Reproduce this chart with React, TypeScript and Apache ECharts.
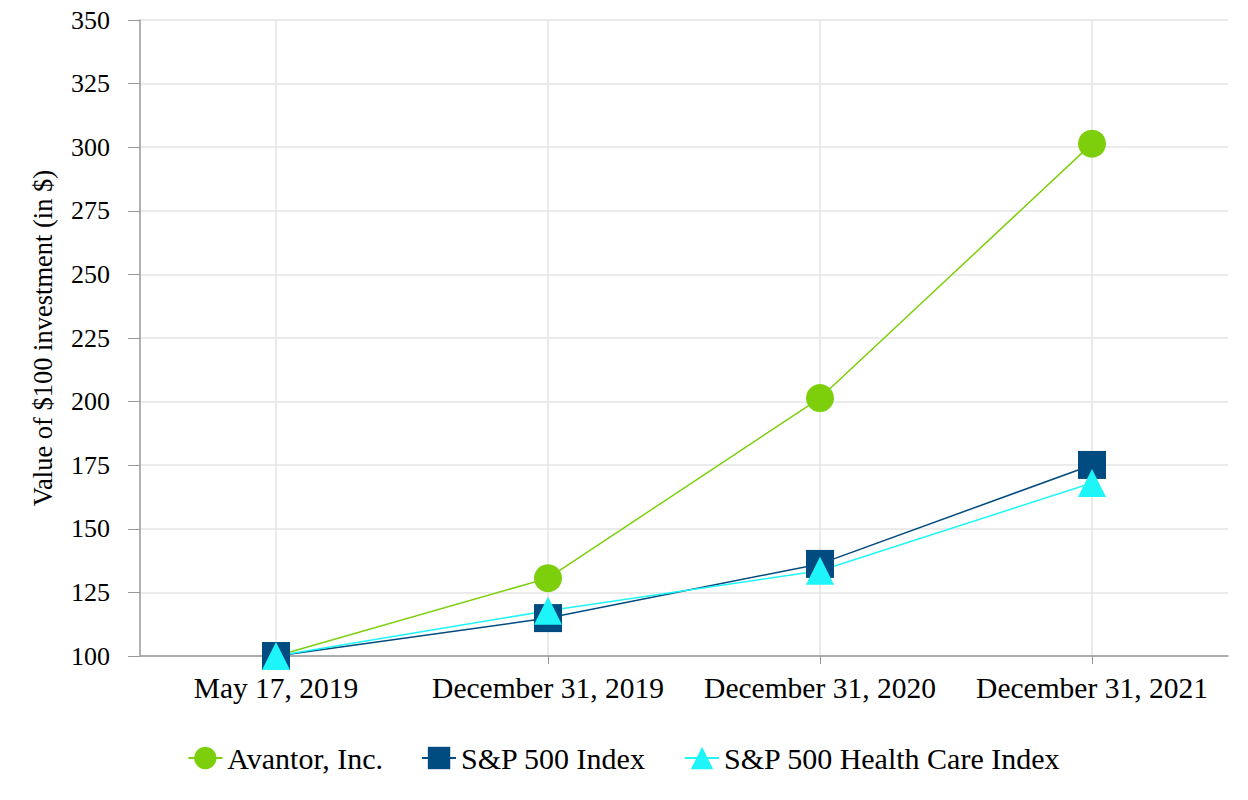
import React, { useEffect, useRef } from "react";
import * as echarts from "echarts";

const categories = ["May 17, 2019", "December 31, 2019", "December 31, 2020", "December 31, 2021"];
const avantor = [100, 130.6, 201.4, 301.4];
const sp500 = [100, 114.9, 136.2, 175.1];
const spHealth = [100, 117.8, 133.5, 168.0];
const yTicks = { min: 100, max: 350, interval: 25 };
const seriesNames = ["Avantor, Inc.", "S&P 500 Index", "S&P 500 Health Care Index"];

const FONT = "Liberation Serif";

export default function App() {
  const ref = useRef<HTMLDivElement>(null);
  useEffect(() => {
    if (!ref.current) return;
    const chart = echarts.init(ref.current, undefined, { renderer: "svg" });
    chart.setOption({
      animation: false,
      textStyle: { fontFamily: FONT, color: "#000" },
      grid: { left: 140, right: 20, top: 20, bottom: 144 },
      legend: {
        bottom: 22,
        left: "center",
        itemWidth: 34,
        itemHeight: 28,
        itemGap: 38,
        textStyle: { fontFamily: FONT, fontSize: 30, color: "#000" },
        data: seriesNames,
      },
      xAxis: {
        type: "category",
        data: categories,
        boundaryGap: true,
        axisLine: { lineStyle: { color: "#999", width: 1.5 } },
        axisTick: { show: true, interval: 0, alignWithLabel: true, length: 8, lineStyle: { color: "#999" } },
        axisLabel: { interval: 0, hideOverlap: false, fontFamily: FONT, fontSize: 29.5, color: "#000", margin: 17 },
        splitLine: { show: true, interval: 0, alignWithLabel: true, lineStyle: { color: "#e5e5e5", width: 1.5 } },
      },
      yAxis: {
        type: "value",
        min: yTicks.min,
        max: yTicks.max,
        interval: yTicks.interval,
        name: "Value of $100 investment (in $)",
        nameLocation: "middle",
        nameGap: 84,
        nameTextStyle: { fontFamily: FONT, fontSize: 26.5, color: "#000" },
        axisLine: { show: true, lineStyle: { color: "#999", width: 1.5 } },
        axisTick: { show: true, length: 12, lineStyle: { color: "#999" } },
        axisLabel: { fontFamily: FONT, fontSize: 26, color: "#000", margin: 30 },
        splitLine: { show: true, lineStyle: { color: "#e5e5e5", width: 1.5 } },
      },
      series: [
        {
          name: seriesNames[0],
          type: "line",
          data: avantor,
          symbol: "circle",
          symbolSize: 28,
          color: "#7dcf0c",
          lineStyle: { width: 1.5, color: "#7dcf0c" },
          itemStyle: { color: "#7dcf0c" },
        },
        {
          name: seriesNames[1],
          type: "line",
          data: sp500,
          symbol: "rect",
          symbolSize: 28,
          color: "#004b7f",
          lineStyle: { width: 1.5, color: "#004b7f" },
          itemStyle: { color: "#004b7f" },
        },
        {
          name: seriesNames[2],
          type: "line",
          data: spHealth,
          symbol: "triangle",
          symbolSize: 28,
          color: "#1ef5f8",
          lineStyle: { width: 1.5, color: "#1ef5f8" },
          itemStyle: { color: "#1ef5f8" },
        },
      ],
    });
    return () => chart.dispose();
  }, []);
  return (
    <div
      ref={ref}
      style={{ position: "fixed", left: 0, top: 0, width: 1248, height: 800, background: "#fff" }}
    />
  );
}
